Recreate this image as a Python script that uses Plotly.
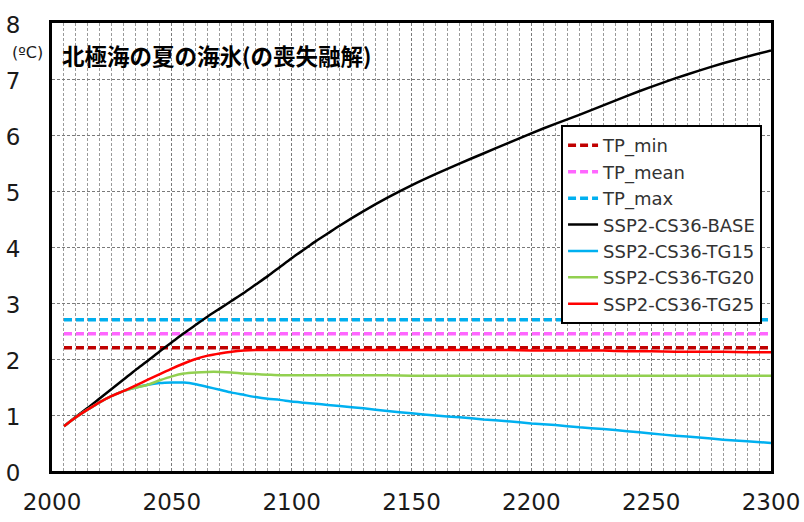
import plotly.graph_objects as go

# Years: 5-year steps to 2120, then 10-year steps to 2300
years = [2005, 2010, 2015, 2020, 2025, 2030, 2035, 2040, 2045, 2050, 2055, 2060,
         2065, 2070, 2075, 2080, 2085, 2090, 2095, 2100, 2105, 2110, 2115, 2120,
         2130, 2140, 2150, 2160, 2170, 2180, 2190, 2200, 2210, 2220, 2230, 2240,
         2250, 2260, 2270, 2280, 2290, 2300]

base = [0.80, 0.97, 1.13, 1.30, 1.47, 1.64, 1.81, 1.97, 2.14, 2.30, 2.46, 2.61,
        2.76, 2.90, 3.04, 3.18, 3.33, 3.48, 3.64, 3.80, 3.95, 4.10, 4.24, 4.38,
        4.64, 4.88, 5.10, 5.30, 5.49, 5.67, 5.85, 6.03, 6.20, 6.36, 6.53, 6.70,
        6.86, 7.01, 7.15, 7.28, 7.40, 7.51]

tg15 = [0.80, 0.96, 1.10, 1.23, 1.34, 1.43, 1.49, 1.54, 1.57, 1.58, 1.58, 1.55,
        1.50, 1.45, 1.40, 1.36, 1.32, 1.29, 1.27, 1.24, 1.22, 1.20, 1.18, 1.16,
        1.12, 1.07, 1.03, 0.99, 0.96, 0.92, 0.89, 0.85, 0.82, 0.78, 0.75, 0.71,
        0.67, 0.63, 0.60, 0.56, 0.53, 0.50]

tg20 = [0.80, 0.96, 1.10, 1.23, 1.34, 1.43, 1.49, 1.54, 1.62, 1.69, 1.74, 1.76,
        1.77, 1.77, 1.76, 1.74, 1.73, 1.72, 1.71, 1.71, 1.71, 1.71, 1.71, 1.71,
        1.71, 1.71, 1.70, 1.70, 1.70, 1.70, 1.70, 1.70, 1.70, 1.70, 1.70, 1.70,
        1.70, 1.70, 1.70, 1.70, 1.70, 1.70]

tg25 = [0.80, 0.96, 1.10, 1.23, 1.34, 1.43, 1.53, 1.63, 1.73, 1.83, 1.92, 2.00,
        2.06, 2.10, 2.13, 2.15, 2.16, 2.16, 2.16, 2.16, 2.16, 2.16, 2.16, 2.16,
        2.16, 2.16, 2.16, 2.16, 2.16, 2.16, 2.16, 2.15, 2.15, 2.15, 2.15, 2.14,
        2.14, 2.13, 2.13, 2.13, 2.12, 2.12]

# Tipping-point thresholds (constant over the period)
tp_years = [2005, 2300]
tp_min = 2.2
tp_mean = 2.45
tp_max = 2.7

x_ticks = [2000, 2050, 2100, 2150, 2200, 2250, 2300]
y_ticks = [0, 1, 2, 3, 4, 5, 6, 7, 8]

fig = go.Figure()

tp_series = [("TP_min", tp_min, "#C00000"),
             ("TP_mean", tp_mean, "#FF66FF"),
             ("TP_max", tp_max, "#00B0F0")]
for i, (name, val, color) in enumerate(tp_series):
    fig.add_trace(go.Scatter(
        x=tp_years, y=[val] * len(tp_years), mode="lines", name=name,
        legendgroup=f"g{i}",
        line=dict(color=color, width=3.5, dash="8px,4px")))

scen_series = [("SSP2-CS36-BASE", base, "#000000"),
               ("SSP2-CS36-TG15", tg15, "#00B0F0"),
               ("SSP2-CS36-TG20", tg20, "#92D050"),
               ("SSP2-CS36-TG25", tg25, "#FF0000")]
for i, (name, vals, color) in enumerate(scen_series):
    fig.add_trace(go.Scatter(
        x=years, y=vals, mode="lines", name=name,
        legendgroup=f"s{i}",
        line=dict(color=color, width=2.5, shape="spline", smoothing=0.6)))

fig.update_xaxes(
    range=[2000, 2300], tickvals=x_ticks, ticktext=[str(v) for v in x_ticks],
    showline=True, linecolor="black", linewidth=3, mirror=True,
    showgrid=True, gridcolor="#7a7a7a", gridwidth=1, griddash="3px,2px",
    minor=dict(dtick=5, tick0=2000, showgrid=True, gridcolor="#9a9a9a",
               griddash="3px,2px", gridwidth=1),
    ticks="", ticklabelstandoff=8, zeroline=False, automargin=False,
    tickfont=dict(family="DejaVu Sans", size=23, color="#1a1a1a"))

fig.update_yaxes(
    range=[0, 8], tickvals=y_ticks, ticktext=[str(v) for v in y_ticks],
    showline=True, linecolor="black", linewidth=3, mirror=True,
    showgrid=True, gridcolor="#7a7a7a", gridwidth=1, griddash="3px,2px",
    ticks="", ticklabelstandoff=24, ticklabelshift=2, zeroline=False,
    automargin=False,
    tickfont=dict(family="DejaVu Sans", size=23, color="#1a1a1a"))

fig.add_annotation(
    text="(ºC)", xref="paper", yref="y", x=0, y=7.47, xshift=-25,
    xanchor="center", yanchor="middle", showarrow=False,
    font=dict(family="DejaVu Sans", size=16, color="#1a1a1a"))

fig.add_annotation(
    text="<b>北極海の夏の海氷(の喪失融解)</b>", xref="paper", yref="y",
    x=0.011, y=7.43, xanchor="left", yanchor="middle", showarrow=False,
    font=dict(family="Noto Sans CJK JP", size=22.5, color="#000000"))

fig.update_layout(
    width=804, height=522,
    margin=dict(l=52, r=33, t=23, b=51),
    paper_bgcolor="white", plot_bgcolor="white",
    showlegend=True,
    legend=dict(
        x=0.708, y=0.772, xanchor="left", yanchor="top",
        bgcolor="white", bordercolor="black", borderwidth=2,
        font=dict(family="DejaVu Sans", size=18, color="#333333"),
        traceorder="grouped", tracegroupgap=0, itemwidth=30),
)

fig.write_html("out.html")
